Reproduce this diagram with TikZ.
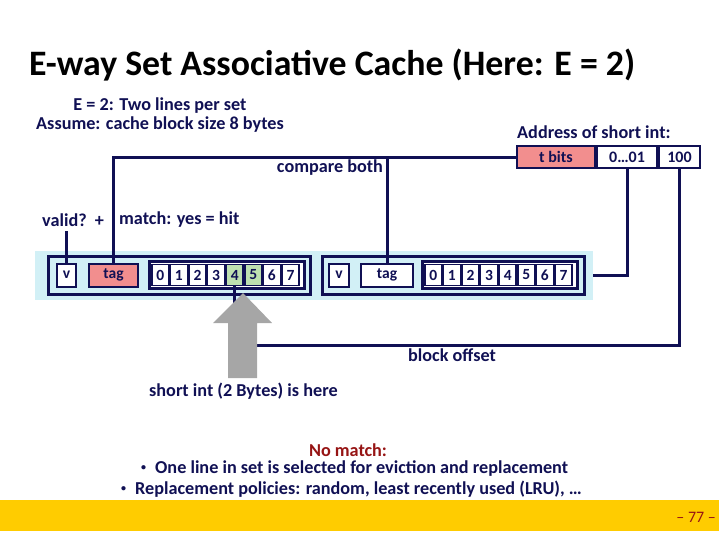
\documentclass[tikz,border=0pt]{standalone}
\usepackage{fontspec}
\setmainfont{Carlito}
\usetikzlibrary{positioning,calc}
\definecolor{navy}{RGB}{16,16,84}
\definecolor{setblue}{RGB}{210,240,246}
\definecolor{tagpink}{RGB}{242,142,142}
\definecolor{hitgreen}{RGB}{190,224,176}
\definecolor{footyellow}{RGB}{255,204,0}
\definecolor{nored}{RGB}{150,20,20}
\definecolor{arrgray}{RGB}{166,166,166}

\begin{document}
\begin{tikzpicture}[
    x=1pt, y=-1pt,
    txt/.style={font=\fontsize{18.2}{19}\selectfont\bfseries, text=navy, inner sep=0pt},
    wire/.style={draw=navy, line width=3pt},
    linebox/.style={draw=navy, line width=3pt, fill=setblue, minimum width=262pt, minimum height=38pt, inner sep=0pt, anchor=west},
    bitbox/.style={draw=navy, line width=2pt, fill=white, minimum height=23pt, inner sep=0pt, anchor=west, font=\fontsize{15.5}{15.5}\selectfont\bfseries, text=navy},
    databox/.style={draw=navy, line width=2.5pt, fill=white, minimum width=155pt, minimum height=27pt, inner sep=0pt, anchor=west},
    cell/.style={draw=navy, line width=1.6pt, minimum width=17pt, minimum height=21pt, inner sep=0pt, anchor=west, font=\fontsize{15.5}{15.5}\selectfont\bfseries, text=navy},
    addrbox/.style={draw=navy, line width=2pt, fill=white, minimum height=22pt, inner sep=0pt, anchor=west, font=\fontsize{16}{16}\selectfont\bfseries, text=navy}
  ]
  \useasboundingbox (0,0) rectangle (719,539);

  % Title
  \node[anchor=west, inner sep=0pt, font=\fontsize{35.8}{36}\selectfont\bfseries] (title) at (29,65) {E-way Set Associative Cache (Here: E = 2)};
  \node[txt, align=center] (setinfo) at (160,115.5) {E = 2: Two lines per set\\Assume: cache block size 8 bytes};

  % Address
  \node[txt, anchor=west] (addrlbl) at (517,132) {Address of short int:};
  \node[addrbox, fill=tagpink, minimum width=78pt] (tbits) at (516,157) {t bits};
  \node[addrbox, minimum width=60pt, right=0pt of tbits] (idx) {0…01};
  \node[addrbox, minimum width=41pt, right=0pt of idx] (off) {100};

  % Set with two lines
  \node[fill=setblue, minimum width=558pt, minimum height=49pt, inner sep=0pt, anchor=west] (setband) at (35,275) {};

  \node[linebox] (line1) at (47,275) {};
  \node[bitbox, minimum width=19pt] (v1) at (56,275) {v};
  \node[bitbox, fill=tagpink, minimum width=49pt] (tag1) at (88,275) {tag};
  \node[databox] (data1) at (148,275) {};
  \foreach \i/\c in {0/white,1/white,2/white,3/white,4/hitgreen,5/hitgreen,6/white,7/white}
    \node[cell, fill=\c] (a\i) at ($(data1.west)+(3+18.6*\i,0)$) {\i};

  \node[linebox] (line2) at (321,275) {};
  \node[bitbox, minimum width=20pt] (v2) at (328,275) {v};
  \node[bitbox, minimum width=52pt] (tag2) at (360,275) {tag};
  \node[databox] (data2) at (421,275) {};
  \foreach \i in {0,...,7}
    \node[cell, fill=white] (b\i) at ($(data2.west)+(3+18.6*\i,0)$) {\i};

  % Labels
  \node[txt] (compare) at (330,168) {compare both};
  \node[txt, anchor=west] (valid) at (42,220) {valid?\ \ +};
  \node[txt, anchor=west] (match) at (119,220) {match: yes = hit};

  % Wires: tag compare
  \draw[wire] (tbits.west) -| (tag1.north);
  \draw[wire] (tag2.north |- tbits.west) -- (tag2.north);
  \draw[wire] (v1.north) -- ($(v1.north |- valid.south)+(0,4)$);

  % Wires: set index and block offset
  \draw[wire] (idx.south) |- (setband.east);
  \path (off.south) ++(0,176) coordinate (ofsbend);
  \draw[wire] (off.south) -- (ofsbend) -| (a4.south);

  % Gray arrow
  \fill[arrgray] (243,293) -- (272,323) -- (257,323) -- (257,378) -- (228,378) -- (228,323) -- (213,323) -- cycle;

  \node[txt] (blockofs) at (452,355) {block offset};
  \node[txt, anchor=west] (shortint) at (149,391) {short int (2 Bytes) is here};

  % No match
  \node[txt, text=nored] (nomatch) at (348,450) {No match:};
  \node[txt, anchor=west] (bullet1) at (141,469) {\raisebox{3pt}{\fontsize{10}{10}\selectfont\textbullet}\hspace{9pt}One line in set is selected for eviction and replacement};
  \node[txt, anchor=west] (bullet2) at (121,489) {\raisebox{3pt}{\fontsize{10}{10}\selectfont\textbullet}\hspace{9pt}Replacement policies: random, least recently used (LRU), …};

  % Footer
  \node[fill=footyellow, minimum width=719pt, minimum height=31pt, inner sep=0pt, anchor=north west] (footer) at (0,500) {};
  \node[anchor=east, inner sep=0pt, text=nored, font=\fontsize{16}{16}\selectfont] (pagenum) at (716,517) {– 77 –};
\end{tikzpicture}
\end{document}
